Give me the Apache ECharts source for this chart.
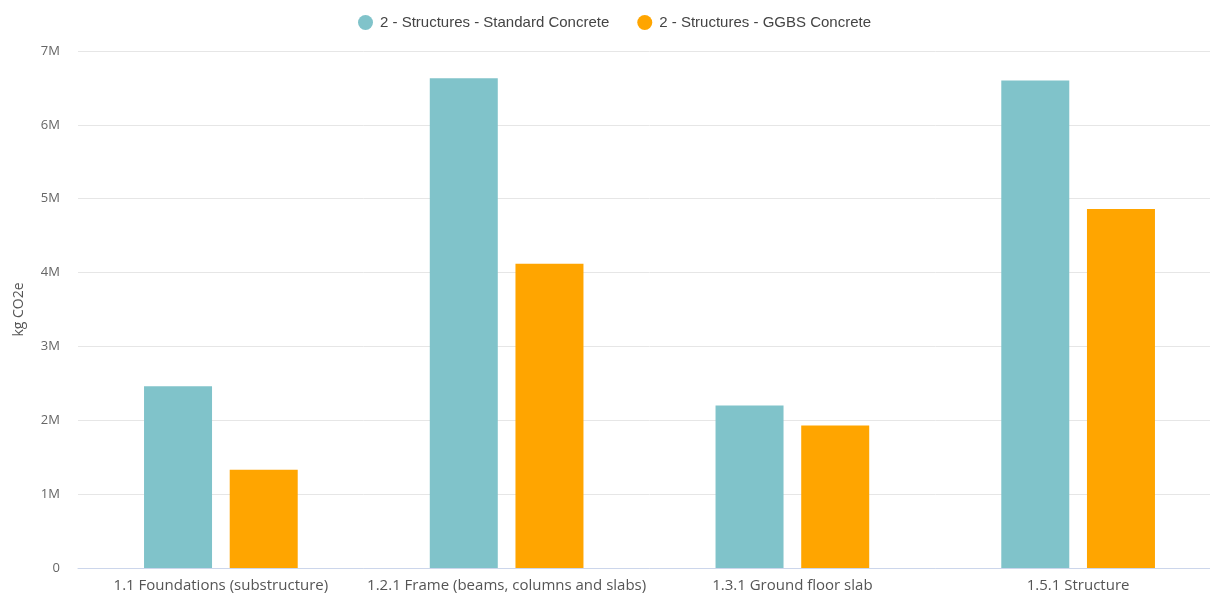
<!DOCTYPE html>
<html>
<head>
<meta charset="utf-8">
<script src="https://cdn.jsdelivr.net/npm/echarts@6/dist/echarts.min.js"></script>
<style>
  html, body { margin: 0; padding: 0; background: #fff; overflow: hidden; }
  #chart { width: 1221px; height: 593px; }
</style>
</head>
<body>
<div id="chart"></div>
<script>
// Embodied carbon per structural element, two concrete options
const categories = [
  '1.1 Foundations (substructure)',
  '1.2.1 Frame (beams, columns and slabs)',
  '1.3.1 Ground floor slab',
  '1.5.1 Structure'
];
const standardConcrete = [2460000, 6630000, 2200000, 6600000];
const ggbsConcrete = [1330000, 4120000, 1930000, 4860000];
const seriesNames = ['2 - Structures - Standard Concrete', '2 - Structures - GGBS Concrete'];
const yTicks = ['0', '1M', '2M', '3M', '4M', '5M', '6M', '7M'];

const chart = echarts.init(document.getElementById('chart'));
chart.setOption({
  animation: false,
  color: ['#80c3ca', '#ffa500'],
  legend: {
    top: 10,
    left: 353,
    icon: 'circle',
    itemWidth: 15,
    itemHeight: 15,
    itemGap: 28,
    textStyle: { fontFamily: 'Liberation Sans, Arial, sans-serif', fontSize: 15, color: '#444', padding: [0, 0, 0, 2] },
    data: seriesNames
  },
  grid: { left: 78, top: 51, right: 0, bottom: 24, containLabel: false },
  xAxis: {
    type: 'category',
    data: categories,
    axisLine: { lineStyle: { color: '#ccd6eb' } },
    axisTick: { show: false },
    axisLabel: { interval: 0, fontFamily: 'Open Sans, sans-serif', fontSize: 15, color: '#555', margin: 10 }
  },
  yAxis: {
    type: 'value',
    min: 0,
    max: 7000000,
    interval: 1000000,
    name: 'kg CO2e',
    nameLocation: 'middle',
    nameGap: 52,
    nameTextStyle: { fontFamily: 'Open Sans, sans-serif', fontSize: 14, color: '#555' },
    splitLine: { lineStyle: { color: '#e6e6e6' } },
    axisLine: { show: false },
    axisTick: { show: false },
    axisLabel: {
      fontFamily: 'Open Sans, sans-serif', fontSize: 13, color: '#666', margin: 18,
      formatter: v => yTicks[Math.round(v / 1000000)]
    }
  },
  series: [
    { name: seriesNames[0], type: 'bar', data: standardConcrete, barWidth: 68, barGap: '26%' },
    { name: seriesNames[1], type: 'bar', data: ggbsConcrete, barWidth: 68, barGap: '26%' }
  ]
});
</script>
</body>
</html>
